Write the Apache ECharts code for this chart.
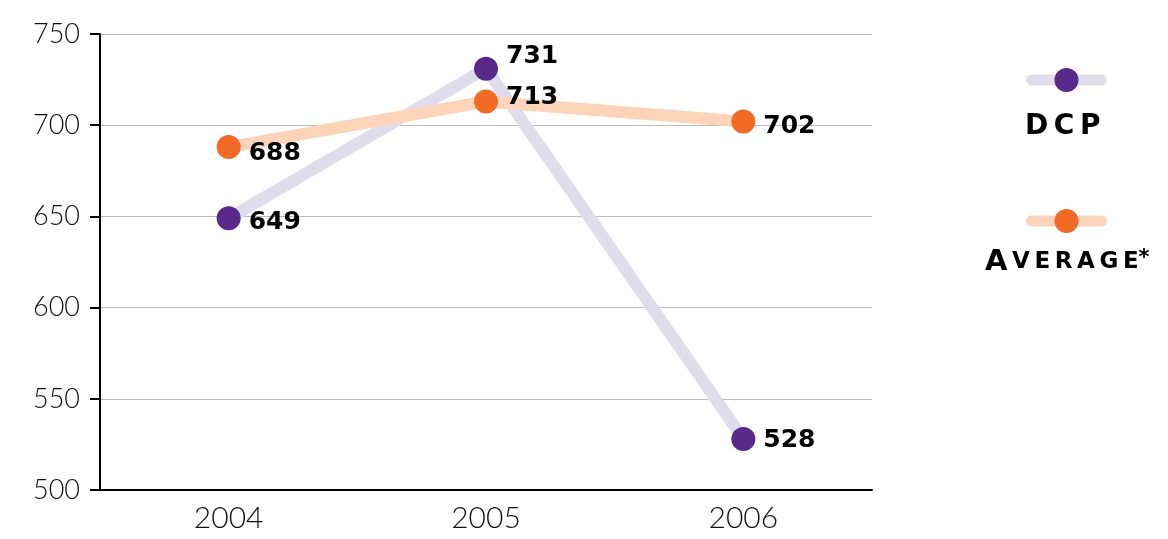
<!DOCTYPE html>
<html><head><meta charset="utf-8">
<script src="https://cdn.jsdelivr.net/npm/echarts@6/dist/echarts.min.js"></script>
<style>html,body{margin:0;padding:0;background:#fff}#c{width:1168px;height:539px}</style>
</head><body><div id="c"></div>
<script>
const categories = ['2004', '2005', '2006'];
const dcpValues = [649, 731, 528];
const avgValues = [688, 713, 702];
const yTicks = [500, 550, 600, 650, 700, 750];
const seriesNames = ['DCP', 'Average*'];

const chart = echarts.init(document.getElementById('c'));
const labelFont = {fontFamily: 'DejaVu Sans', fontWeight: 'bold', fontSize: 25, color: '#000'};
const dcpOffsets = [[0, 4], [0, -12], [0, 2]];
const avgOffsets = [[0, 6], [0, -4], [0, 5]];

function mkData(vals, offs) {
  return vals.map((v, i) => ({value: v, label: {offset: offs[i]}}));
}

const legendCommon = {left: 1021, itemWidth: 70, itemHeight: 30, formatter: () => ' ', selectedMode: false};

chart.setOption({
  animation: false,
  grid: {left: 100, right: 296, top: 34, bottom: 49, containLabel: false},
  xAxis: {
    type: 'category', data: categories, boundaryGap: true,
    axisLine: {lineStyle: {color: '#000', width: 2}},
    axisTick: {length: 8, lineStyle: {color: '#000', width: 2}},
    axisLabel: {fontFamily: 'Lato', fontWeight: 300, fontSize: 30, color: '#111', margin: 13}
  },
  yAxis: {
    type: 'value', min: yTicks[0], max: yTicks[yTicks.length - 1], interval: 50,
    axisLine: {show: true, lineStyle: {color: '#000', width: 2}},
    axisTick: {show: true, length: 10, lineStyle: {color: '#000', width: 2}},
    axisLabel: {fontFamily: 'Lato', fontWeight: 300, fontSize: 27, color: '#111', margin: 20},
    splitLine: {lineStyle: {color: '#bbb', width: 1}}
  },
  legend: [
    Object.assign({data: [{name: seriesNames[0], lineStyle: {width: 11, cap: 'round'}}], top: 63}, legendCommon),
    Object.assign({data: [{name: seriesNames[1], lineStyle: {width: 11, cap: 'round'}}], top: 204}, legendCommon)
  ],
  graphic: [
    {type: 'text', left: 1025, top: 113, style: {text: 'D\u2009C\u2009P', fontFamily: 'DejaVu Sans', fontWeight: 'bold', fontSize: 28, fill: '#000'}},
    {type: 'text', left: 985, top: 248, style: {
      text: '{a|A}{b|\u2009V\u2009E\u2009R\u2009A\u2009G\u2009E}{c|*}',
      rich: {
        a: {fontFamily: 'DejaVu Sans', fontWeight: 'bold', fontSize: 29, fill: '#000'},
        b: {fontFamily: 'DejaVu Sans', fontWeight: 'bold', fontSize: 23, fill: '#000'},
        c: {fontFamily: 'DejaVu Sans', fontWeight: 'bold', fontSize: 21, fill: '#000', verticalAlign: 'top'}
      }
    }}
  ],
  series: [
    {
      name: seriesNames[0], type: 'line', data: mkData(dcpValues, dcpOffsets),
      symbol: 'circle', symbolSize: 24, z: 2,
      lineStyle: {color: '#dfdcec', width: 12, cap: 'round'},
      itemStyle: {color: '#5a2a8b'},
      label: Object.assign({show: true, position: 'right', distance: 8}, labelFont)
    },
    {
      name: seriesNames[1], type: 'line', data: mkData(avgValues, avgOffsets),
      symbol: 'circle', symbolSize: 24, z: 3,
      lineStyle: {color: '#fdd4b9', width: 12, cap: 'round'},
      itemStyle: {color: '#f26a24'},
      label: Object.assign({show: true, position: 'right', distance: 8}, labelFont)
    }
  ]
});
</script></body></html>
